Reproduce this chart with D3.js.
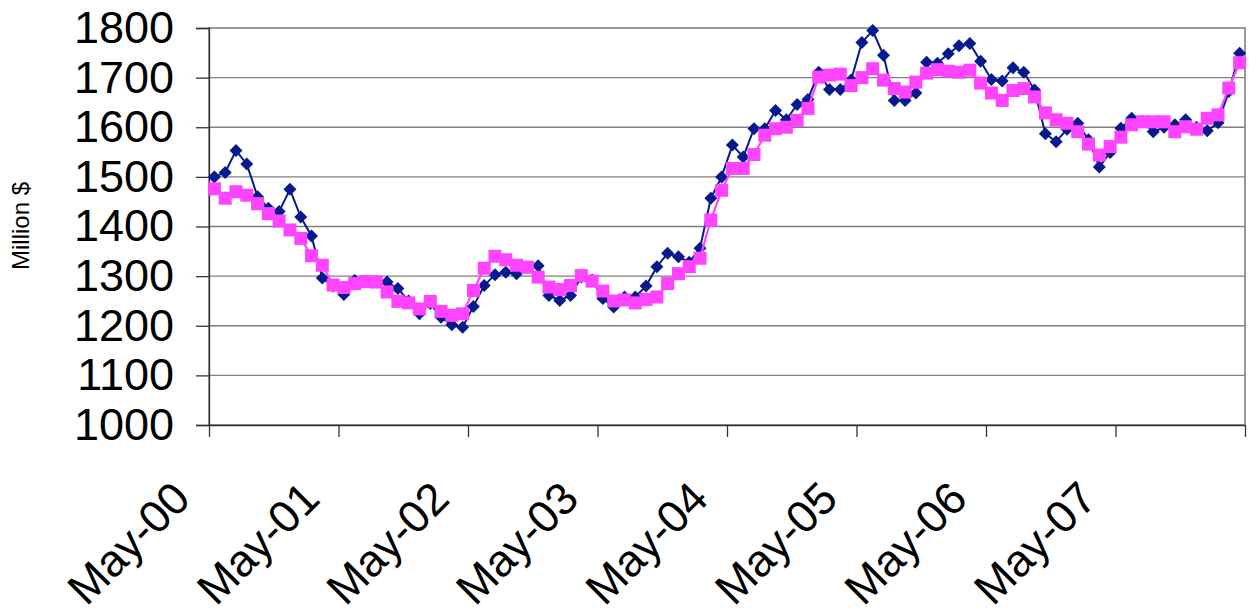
<!DOCTYPE html>
<html>
<head>
<meta charset="utf-8">
<script src="https://cdn.jsdelivr.net/npm/d3@7"></script>
<style>
  body { margin: 0; background: #fff; }
  svg { display: block; font-family: "Liberation Sans", Arial, sans-serif; }
</style>
</head>
<body>
<div id="chart"></div>
<script>
// monthly values, May-00 .. Apr-08
let seriesBlue = [1500, 1509, 1553, 1526, 1460, 1437, 1430, 1475, 1419, 1381, 1296, 1280,
                  1263, 1291, 1289, 1289, 1288, 1275, 1250, 1224, 1245, 1217, 1202, 1197,
                  1239, 1281, 1303, 1308, 1305, 1318, 1321, 1261, 1251, 1261, 1298, 1292,
                  1255, 1238, 1258, 1258, 1280, 1319, 1346, 1339, 1328, 1356, 1457, 1500,
                  1564, 1540, 1597, 1597, 1634, 1615, 1646, 1656, 1711, 1676, 1676, 1695,
                  1771, 1795, 1745, 1654, 1654, 1669, 1731, 1729, 1748, 1764, 1769, 1733,
                  1696, 1693, 1720, 1711, 1675, 1587, 1571, 1596, 1608, 1575, 1520, 1549,
                  1598, 1618, 1612, 1591, 1600, 1605, 1615, 1600, 1593, 1609, 1672, 1749]
let seriesPink = [1476, 1457, 1470, 1463, 1446, 1426, 1411, 1393, 1376, 1341, 1322, 1282,
                  1277, 1285, 1289, 1288, 1268, 1249, 1246, 1234, 1249, 1229, 1221, 1224,
                  1271, 1316, 1340, 1333, 1322, 1318, 1298, 1278, 1273, 1281, 1301, 1290,
                  1270, 1250, 1252, 1246, 1253, 1258, 1285, 1305, 1319, 1336, 1413, 1473,
                  1517, 1517, 1545, 1584, 1597, 1600, 1614, 1638, 1701, 1705, 1707, 1684,
                  1700, 1718, 1695, 1678, 1671, 1691, 1709, 1716, 1713, 1711, 1715, 1689,
                  1669, 1654, 1674, 1678, 1661, 1629, 1615, 1608, 1591, 1566, 1544, 1561,
                  1580, 1605, 1611, 1611, 1611, 1591, 1601, 1596, 1618, 1625, 1679, 1730]
let tickLabels = ['May-00', 'May-01', 'May-02', 'May-03', 'May-04', 'May-05', 'May-06', 'May-07']
let yTicks = [1000, 1100, 1200, 1300, 1400, 1500, 1600, 1700, 1800]
let yLabel = 'Million $'

let width = 1249, height = 614
let margin = {top: 28, right: 4, bottom: 189, left: 209}
let chartWidth = width - margin.left - margin.right
let chartHeight = height - margin.top - margin.bottom
let blueColor = '#061a8e'
let pinkColor = '#ff44ff'

let svg = d3.select('#chart').append('svg')
  .attr('width', width)
  .attr('height', height)

let chartArea = svg.append('g')
  .attr('transform', 'translate(' + margin.left + ',' + margin.top + ')')

// month index scale, each point sits in the middle of its month
let xScale = d3.scaleLinear().domain([0, seriesBlue.length]).range([0, chartWidth])
let yScale = d3.scaleLinear().domain([1000, 1800]).range([chartHeight, 0])

// plot border
chartArea.append('rect')
  .attr('x', 0).attr('y', 0)
  .attr('width', chartWidth).attr('height', chartHeight)
  .attr('fill', 'none')
  .attr('stroke', '#9a9a9a')
  .attr('stroke-width', 2)

// gridlines
chartArea.append('g')
  .selectAll('line')
  .data(yTicks.slice(1, -1))
  .enter().append('line')
  .attr('x1', 0).attr('x2', chartWidth)
  .attr('y1', d => yScale(d)).attr('y2', d => yScale(d))
  .attr('stroke', '#7f7f7f')
  .attr('stroke-width', 1.3)

// y axis
let yAxis = chartArea.append('g')
  .call(d3.axisLeft(yScale).tickValues(yTicks).tickSize(13).tickPadding(22).tickFormat(d3.format('d')))
yAxis.select('.domain').attr('stroke', '#333').attr('stroke-width', 1.3)
yAxis.selectAll('.tick line').attr('stroke', '#333').attr('stroke-width', 1.3)
yAxis.selectAll('text')
  .style('font-size', '45px')
  .attr('fill', '#000')

// x axis
let xTickIdx = d3.range(0, seriesBlue.length + 1, 12)
let xAxis = chartArea.append('g')
  .attr('transform', 'translate(0,' + chartHeight + ')')
  .call(d3.axisBottom(xScale).tickValues(xTickIdx).tickSize(12).tickSizeOuter(0)
        .tickFormat(d => tickLabels[d / 12] || ''))
xAxis.select('.domain').attr('stroke', '#333').attr('stroke-width', 1.3)
xAxis.selectAll('.tick line').attr('stroke', '#333').attr('stroke-width', 1.3)
xAxis.selectAll('text')
  .attr('x', 0).attr('y', 0).attr('dy', 0)
  .attr('transform', 'translate(-17,76) rotate(-45)')
  .style('text-anchor', 'end')
  .style('font-size', '45px')
  .attr('fill', '#000')

// y label
svg.append('text')
  .attr('transform', 'translate(29,226) rotate(-90)')
  .style('text-anchor', 'middle')
  .style('font-size', '24px')
  .attr('fill', '#000')
  .text(yLabel)

let line = d3.line()
  .x((d, i) => xScale(i + 0.5))
  .y(d => yScale(d))

// blue series with diamonds
chartArea.append('path')
  .datum(seriesBlue)
  .attr('d', line)
  .attr('fill', 'none')
  .attr('stroke', blueColor)
  .attr('stroke-width', 2)

chartArea.append('g')
  .selectAll('path')
  .data(seriesBlue)
  .enter().append('path')
  .attr('d', 'M0,-6.5L6.5,0L0,6.5L-6.5,0Z')
  .attr('transform', (d, i) => 'translate(' + xScale(i + 0.5) + ',' + yScale(d) + ')')
  .attr('fill', blueColor)

// pink series with squares
chartArea.append('path')
  .datum(seriesPink)
  .attr('d', line)
  .attr('fill', 'none')
  .attr('stroke', pinkColor)
  .attr('stroke-width', 2.2)

chartArea.append('g')
  .selectAll('rect')
  .data(seriesPink)
  .enter().append('rect')
  .attr('x', (d, i) => xScale(i + 0.5) - 6.5)
  .attr('y', d => yScale(d) - 6.5)
  .attr('width', 13).attr('height', 13)
  .attr('fill', pinkColor)
</script>
</body>
</html>
